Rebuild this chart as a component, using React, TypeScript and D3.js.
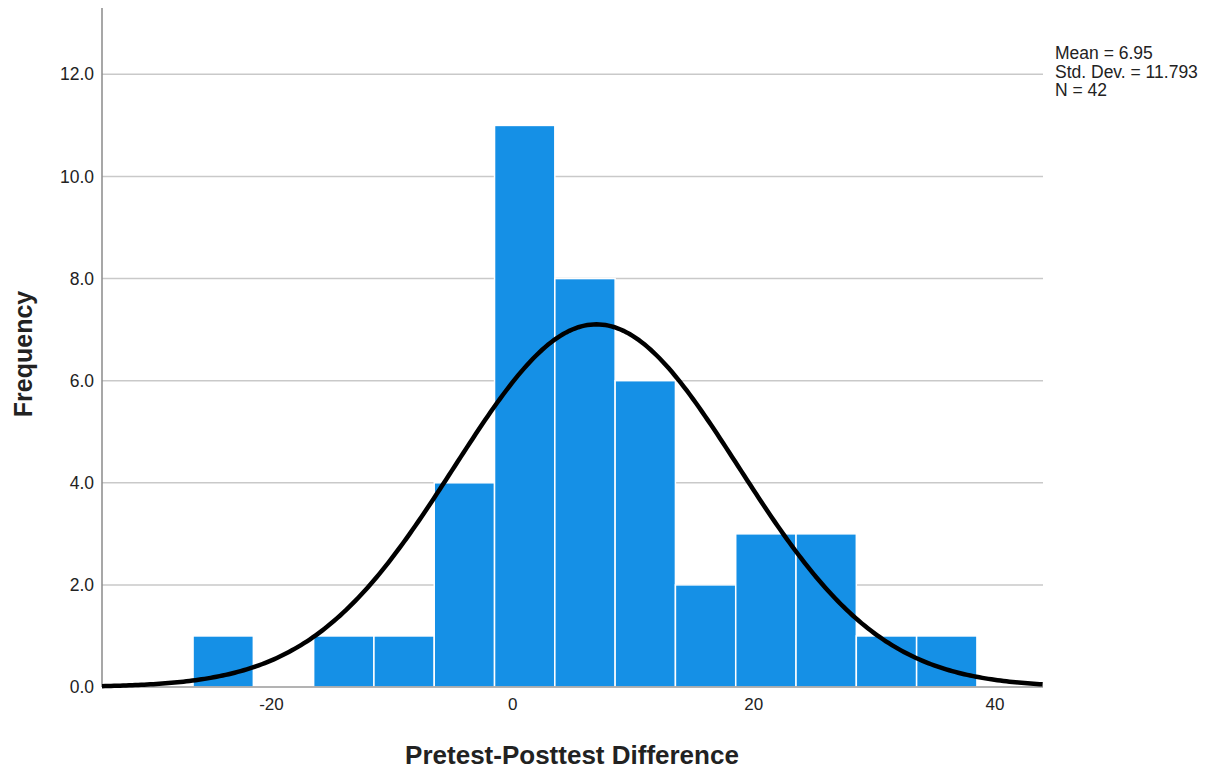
import React, { useEffect, useRef } from "react";
import * as d3 from "d3";

// histogram bins (lower edge) and counts
const binStarts = [-26.5, -21.5, -16.5, -11.5, -6.5, -1.5, 3.5, 8.5, 13.5, 18.5, 23.5, 28.5, 33.5];
const binCounts = [1, 0, 1, 1, 4, 11, 8, 6, 2, 3, 3, 1, 1];
const binWidth = 5;

const yTicks = [0, 2, 4, 6, 8, 10, 12];
const xTicks = [-20, 0, 20, 40];

const statMean = 6.95;
const statSd = 11.793;
const statN = 42;
const statLines = ["Mean = 6.95", "Std. Dev. = 11.793", "N = 42"];

export default function App() {
  const svgRef = useRef<SVGSVGElement | null>(null);

  useEffect(() => {
    if (!svgRef.current) return;
    const width = 1211;
    const height = 771;
    const margin = { top: 8, right: 168, bottom: 84, left: 102 };

    const svg = d3.select(svgRef.current);
    svg.selectAll("*").remove();
    svg.attr("width", width).attr("height", height).attr("viewBox", `0 0 ${width} ${height}`);

    const x = d3
      .scaleLinear()
      .domain([-34.05, 43.98])
      .range([margin.left, width - margin.right]);
    const y = d3
      .scaleLinear()
      .domain([0, 13.3])
      .range([height - margin.bottom, margin.top]);

    const font = "'Liberation Sans', Arial, sans-serif";

    // gridlines
    svg
      .append("g")
      .selectAll("line")
      .data(yTicks.filter((d) => d > 0))
      .join("line")
      .attr("x1", x.range()[0])
      .attr("x2", x.range()[1])
      .attr("y1", (d) => y(d))
      .attr("y2", (d) => y(d))
      .attr("stroke", "#c9c9c9")
      .attr("stroke-width", 1.5);

    // bars
    const bins = binStarts.map((s, i) => ({ x0: s, x1: s + binWidth, count: binCounts[i] }));
    svg
      .append("g")
      .selectAll("rect")
      .data(bins.filter((b) => b.count > 0))
      .join("rect")
      .attr("x", (d) => x(d.x0))
      .attr("y", (d) => y(d.count))
      .attr("width", (d) => x(d.x1) - x(d.x0))
      .attr("height", (d) => y(0) - y(d.count))
      .attr("fill", "#1590e6")
      .attr("stroke", "#ffffff")
      .attr("stroke-width", 1.5);

    // axis lines
    svg
      .append("line")
      .attr("x1", x.range()[0])
      .attr("x2", x.range()[1])
      .attr("y1", y(0))
      .attr("y2", y(0))
      .attr("stroke", "#9a9a9a")
      .attr("stroke-width", 1.5);
    svg
      .append("line")
      .attr("x1", x.range()[0])
      .attr("x2", x.range()[0])
      .attr("y1", y(0))
      .attr("y2", y.range()[1])
      .attr("stroke", "#8a8a8a")
      .attr("stroke-width", 1.5);

    // normal curve from the summary stats
    const pdf = (v: number) =>
      (statN * binWidth * Math.exp(-((v - statMean) ** 2) / (2 * statSd * statSd))) /
      (statSd * Math.sqrt(2 * Math.PI));
    const curvePts = d3.range(x.domain()[0], x.domain()[1] + 0.01, 0.25);
    svg
      .append("path")
      .datum(curvePts)
      .attr("fill", "none")
      .attr("stroke", "#000")
      .attr("stroke-width", 4.5)
      .attr(
        "d",
        d3
          .line<number>()
          .x((d) => x(d))
          .y((d) => y(pdf(d)))
      );

    // y tick labels
    svg
      .append("g")
      .selectAll("text")
      .data(yTicks)
      .join("text")
      .attr("x", x.range()[0] - 8)
      .attr("y", (d) => y(d))
      .attr("dy", "0.35em")
      .attr("text-anchor", "end")
      .attr("font-family", font)
      .attr("font-size", 17.5)
      .attr("fill", "#222")
      .text((d) => d3.format(".1f")(d));

    // x tick labels
    svg
      .append("g")
      .selectAll("text")
      .data(xTicks)
      .join("text")
      .attr("x", (d) => x(d))
      .attr("y", y(0) + 23)
      .attr("text-anchor", "middle")
      .attr("font-family", font)
      .attr("font-size", 17)
      .attr("fill", "#222")
      .text((d) => String(d));

    // axis titles
    svg
      .append("text")
      .attr("x", 572)
      .attr("y", 764)
      .attr("text-anchor", "middle")
      .attr("font-family", font)
      .attr("font-size", 26)
      .attr("font-weight", "bold")
      .attr("fill", "#222")
      .text("Pretest-Posttest Difference");
    svg
      .append("text")
      .attr("transform", `translate(32,354) rotate(-90)`)
      .attr("text-anchor", "middle")
      .attr("font-family", font)
      .attr("font-size", 25)
      .attr("font-weight", "bold")
      .attr("fill", "#222")
      .text("Frequency");

    // stats annotation
    svg
      .append("g")
      .selectAll("text")
      .data(statLines)
      .join("text")
      .attr("x", 1055)
      .attr("y", (d, i) => 59 + i * 18.5)
      .attr("font-family", font)
      .attr("font-size", 17.5)
      .attr("fill", "#222")
      .text((d) => d);
  }, []);

  return <svg ref={svgRef} style={{ display: "block", position: "absolute", left: 0, top: 0 }} />;
}
